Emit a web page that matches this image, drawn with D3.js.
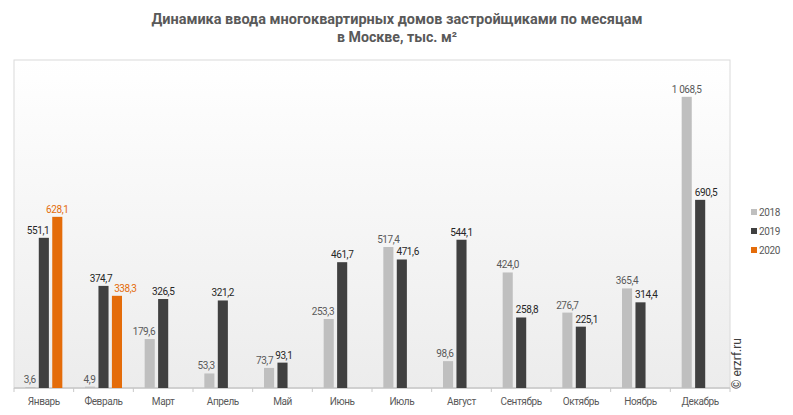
<!DOCTYPE html>
<html>
<head>
<meta charset="utf-8">
<script src="https://cdn.jsdelivr.net/npm/d3@7"></script>
<style>
  body { margin: 0; background: #fff; }
  svg { display: block; font-family: Roboto, "Liberation Sans", Arial, sans-serif; }
</style>
</head>
<body>
<div id="chart"></div>
<script>
// data
var months = ["Январь", "Февраль", "Март", "Апрель", "Май", "Июнь", "Июль", "Август", "Сентябрь", "Октябрь", "Ноябрь", "Декабрь"];
var years = ["2018", "2019", "2020"];
var v2018 = [3.6, 4.9, 179.6, 53.3, 73.7, 253.3, 517.4, 98.6, 424.0, 276.7, 365.4, 1068.5];
var v2019 = [551.1, 374.7, 326.5, 321.2, 93.1, 461.7, 471.6, 544.1, 258.8, 225.1, 314.4, 690.5];
var v2020 = [628.1, 338.3, null, null, null, null, null, null, null, null, null, null];
var yTicks = [0, 1200];

var width = 793, height = 415;
var plot = {left: 14, right: 730, top: 61, bottom: 388};
var barColor = {"2018": "#bfbfbf", "2019": "#404040", "2020": "#e46c0a"};
var labelColor = {"2018": "#595959", "2019": "#262626", "2020": "#e46c0a"};

var series = [v2018, v2019, v2020];

var ru = d3.formatLocale({decimal: ",", thousands: " ", grouping: [3], currency: ["", ""]});
var fmt = ru.format(",.1f");

var svg = d3.select("#chart").append("svg")
    .attr("width", width)
    .attr("height", height);

// background gradient of the plot area
var defs = svg.append("defs");
var grad = defs.append("linearGradient").attr("id", "bg")
    .attr("x1", 0).attr("y1", 0).attr("x2", 0).attr("y2", 1);
grad.append("stop").attr("offset", "0%").attr("stop-color", "#ffffff");
grad.append("stop").attr("offset", "100%").attr("stop-color", "#ececec");

svg.append("rect")
    .attr("x", plot.left).attr("y", 60)
    .attr("width", plot.right - plot.left).attr("height", plot.bottom - 60)
    .attr("fill", "url(#bg)")
    .attr("stroke", "#dadada")
    .attr("stroke-width", 1);

// title
var title = svg.append("text")
    .attr("text-anchor", "middle")
    .attr("font-weight", "bold")
    .attr("font-size", 14)
    .attr("fill", "#595959");
title.append("tspan").attr("x", 397).attr("y", 24)
    .attr("textLength", 491).attr("lengthAdjust", "spacingAndGlyphs")
    .text("Динамика ввода многоквартирных домов застройщиками по месяцам");
title.append("tspan").attr("x", 397).attr("y", 42)
    .attr("textLength", 120).attr("lengthAdjust", "spacingAndGlyphs")
    .text("в Москве, тыс. м²");

// scales
var x0 = d3.scaleBand()
    .domain(months)
    .range([plot.left, plot.right])
    .padding(0);

var bw = x0.bandwidth();
var x1 = d3.scaleBand()
    .domain(years)
    .range([bw * 0.19, bw * 0.81])
    .paddingInner(0.25);

var y = d3.scaleLinear()
    .domain([yTicks[0], yTicks[1]])
    .range([plot.bottom, plot.top]);

// x axis with ticks between categories
var xAxis = svg.append("g").attr("transform", "translate(0," + plot.bottom + ")");
xAxis.append("line")
    .attr("x1", plot.left).attr("x2", plot.right)
    .attr("stroke", "#c8c8c8").attr("stroke-width", 1.5);
var bounds = months.map(function(m) { return x0(m); }).concat([plot.right]);
xAxis.selectAll(".tk").data(bounds).enter().append("line")
    .attr("x1", function(d) { return d; })
    .attr("x2", function(d) { return d; })
    .attr("y1", 0).attr("y2", 4)
    .attr("stroke", "#c8c8c8");
xAxis.selectAll(".cat").data(months).enter().append("text")
    .attr("x", function(d) { return x0(d) + bw / 2; })
    .attr("y", 17)
    .attr("text-anchor", "middle")
    .attr("font-size", 10)
    .attr("letter-spacing", -0.4)
    .attr("fill", "#595959")
    .text(function(d) { return d; });

// bars
var items = [];
months.forEach(function(m, i) {
    var group = [];
    years.forEach(function(yr, k) {
        var v = series[k][i];
        if (v == null) return;
        group.push({m: m, yr: yr, k: k, v: v,
            x: x0(m) + x1(yr), w: x1.bandwidth(), top: y(v)});
    });
    items.push(group);
});

var flat = [].concat.apply([], items);
svg.append("g").selectAll("rect").data(flat).enter().append("rect")
    .attr("x", function(d) { return d.x; })
    .attr("y", function(d) { return d.top; })
    .attr("width", function(d) { return d.w; })
    .attr("height", function(d) { return plot.bottom - d.top; })
    .attr("fill", function(d) { return barColor[d.yr]; });

// value labels
var labels = svg.append("g").selectAll("text").data(flat).enter().append("text")
    .attr("y", function(d) { return d.top - 4; })
    .attr("text-anchor", "middle")
    .attr("font-size", 10)
    .attr("letter-spacing", -0.4)
    .attr("fill", function(d) { return labelColor[d.yr]; })
    .text(function(d) { return fmt(d.v); });

labels.each(function(d) {
    d.lw = this.getComputedTextLength();
    d.cx = d.x + d.w / 2;
    d.base = d.top - 4;
});

// keep labels clear of taller neighbour bars, then of each other
var gap = 3;
items.forEach(function(group) {
    group.forEach(function(d, j) {
        group.forEach(function(o, jj) {
            if (jj === j || Math.abs(o.k - d.k) !== 1) return;
            if (o.top >= d.base) return;
            var l = d.cx - d.lw / 2, r = d.cx + d.lw / 2;
            if (o.k > d.k && r + gap > o.x) d.cx -= (r + gap - o.x);
            if (o.k < d.k && l - gap < o.x + o.w) d.cx += (o.x + o.w + gap - l);
        });
    });
    for (var j = 0; j < group.length - 1; j++) {
        var a = group[j], b = group[j + 1];
        if (Math.abs(a.base - b.base) > 10) continue;
        var over = (a.cx + a.lw / 2 + 2) - (b.cx - b.lw / 2);
        if (over > 0) { a.cx -= over / 2; b.cx += over / 2; }
    }
});

labels.attr("x", function(d) { return d.cx; });

// legend
var legend = svg.append("g").selectAll("g").data(years).enter().append("g")
    .attr("transform", function(d, i) { return "translate(751," + (212 + i * 19) + ")"; });
legend.append("rect")
    .attr("x", 0).attr("y", -3)
    .attr("width", 6).attr("height", 6)
    .attr("fill", function(d) { return barColor[d]; });
legend.append("text")
    .attr("x", 8).attr("y", 3.5)
    .attr("font-size", 10)
    .attr("letter-spacing", -0.4)
    .attr("fill", "#595959")
    .text(function(d) { return d; });

// watermark
svg.append("text")
    .attr("transform", "translate(741,389) rotate(-90)")
    .attr("font-size", 12)
    .attr("fill", "#404040")
    .text("© erzrf.ru");
</script>
</body>
</html>
